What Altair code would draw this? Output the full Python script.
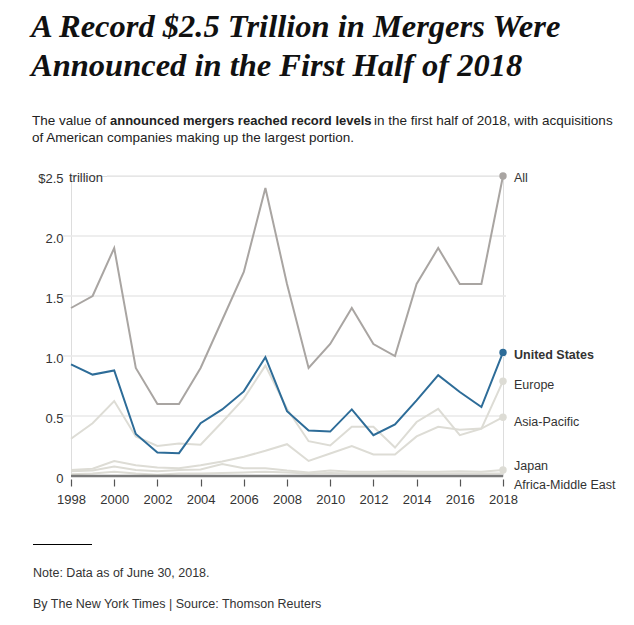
import altair as alt
import pandas as pd

years = list(range(1998, 2019))
all_vals = [1.40, 1.50, 1.90, 0.90, 0.60, 0.60, 0.90, 1.30, 1.70, 2.40, 1.60,
            0.90, 1.10, 1.40, 1.10, 1.00, 1.60, 1.90, 1.60, 1.60, 2.50]
us_vals = [0.93, 0.845, 0.88, 0.35, 0.195, 0.19, 0.44, 0.555, 0.705, 0.99, 0.54,
           0.38, 0.37, 0.555, 0.34, 0.43, 0.63, 0.84, 0.70, 0.575, 1.03]
europe_vals = [0.31, 0.44, 0.625, 0.33, 0.25, 0.27, 0.26, 0.45, 0.645, 0.92, 0.56,
               0.29, 0.255, 0.41, 0.41, 0.237, 0.45, 0.56, 0.34, 0.395, 0.79]
asia_vals = [0.05, 0.06, 0.125, 0.09, 0.07, 0.065, 0.09, 0.12, 0.16, 0.21, 0.265,
             0.125, 0.187, 0.25, 0.18, 0.18, 0.33, 0.41, 0.385, 0.395, 0.49]
japan_vals = [0.04, 0.045, 0.08, 0.05, 0.04, 0.05, 0.055, 0.10, 0.065, 0.065, 0.045,
              0.03, 0.045, 0.035, 0.035, 0.04, 0.035, 0.035, 0.04, 0.035, 0.05]
africa_vals = [0.015, 0.02, 0.035, 0.02, 0.01, 0.02, 0.02, 0.025, 0.03, 0.035, 0.03,
               0.02, 0.025, 0.02, 0.02, 0.02, 0.02, 0.02, 0.02, 0.02, 0.02]

series_names = ["All", "United States", "Europe", "Asia-Pacific", "Japan", "Africa-Middle East"]
series_vals = [all_vals, us_vals, europe_vals, asia_vals, japan_vals, africa_vals]
label_dy = [2, 3, 4, 5, -4, 11]

grid_values = [0.5, 1.0, 1.5, 2.0]
y_ticks = [0, 0.5, 1.0, 1.5, 2.0, 2.5]
x_ticks = list(range(1998, 2019, 2))

rows = []
for name, vals in zip(series_names, series_vals):
    for yr, v in zip(years, vals):
        rows.append({"series": name, "year": yr, "value": v})
df = pd.DataFrame(rows)

W, H = 432, 300
OX, OY = 71, 176  # page position of plot origin

GRAY = "#a9a5a2"
BLUE = "#2d6c98"
LIGHT = "#dddcd5"
SANS = "Liberation Sans"
TEXT = "#333333"

xs = alt.Scale(domain=[1998, 2018], nice=False, zero=False)
ys = alt.Scale(domain=[0, 2.5], nice=False)

Y_AX = alt.Axis(
    values=y_ticks, grid=False, domain=False, ticks=False, labelPadding=8,
    labelExpr="datum.value == 0 ? '0' : (datum.value == 2.5 ? '$2.5' : format(datum.value, '.1f'))",
    labelFont=SANS, labelFontSize=13, labelColor=TEXT, labelOffset=2, title=None)
X_AX = alt.Axis(
    values=x_ticks, format="d", domain=False, grid=False, offset=3, tickSize=7,
    tickColor="#555555", tickWidth=1.2, labelPadding=7, labelFont=SANS, labelFontSize=13,
    labelColor=TEXT, labelOverlap=False, labelFlush=False, title=None)


def X(f="year:Q"):
    return alt.X(f, scale=xs, axis=X_AX)


def Y(f="value:Q"):
    return alt.Y(f, scale=ys, axis=Y_AX)


base = alt.Chart(df)

grid = alt.Chart(pd.DataFrame({"v": grid_values})).mark_rule(color="#e8e8e8", strokeWidth=1.5).encode(
    y=Y("v:Q"), x=alt.value(-8), x2=alt.value(W + 3))
grid_top = alt.Chart(pd.DataFrame({"v": [2.5]})).mark_rule(color="#e8e8e8", strokeWidth=1.5).encode(
    y=Y("v:Q"), x=alt.value(36), x2=alt.value(W + 3))

light_names = ["Africa-Middle East", "Japan", "Asia-Pacific", "Europe"]
light_lines = base.transform_filter(
    alt.FieldOneOfPredicate(field="series", oneOf=light_names)
).mark_line(color=LIGHT, strokeWidth=2).encode(x=X(), y=Y(), detail="series:N")

baseline = alt.Chart(pd.DataFrame({"v": [0]})).mark_rule(color="#7a7a7a", strokeWidth=2.5).encode(
    y=Y("v:Q"), x=alt.value(0), x2=alt.value(W))

all_line = base.transform_filter(alt.datum.series == "All").mark_line(color=GRAY, strokeWidth=2).encode(
    x=X(), y=Y())
us_line = base.transform_filter(alt.datum.series == "United States").mark_line(color=BLUE, strokeWidth=2).encode(
    x=X(), y=Y())

last = df[df.year == 2018]
dots_light = alt.Chart(last[last.series.isin(["Europe", "Asia-Pacific", "Japan"])]).mark_circle(
    size=55, opacity=1, color=LIGHT).encode(x=X(), y=Y())
dot_all = alt.Chart(last[last.series == "All"]).mark_circle(size=55, opacity=1, color=GRAY).encode(
    x=X(), y=Y())
dot_us = alt.Chart(last[last.series == "United States"]).mark_circle(size=55, opacity=1, color=BLUE).encode(
    x=X(), y=Y())

labels = []
for name, dy in zip(series_names, label_dy):
    labels.append(alt.Chart(last[last.series == name]).mark_text(
        align="left", baseline="middle", dx=11, dy=dy, font=SANS, fontSize=12.5,
        fontWeight="bold" if name == "United States" else "normal", color=TEXT).encode(
        x=X(), y=Y(), text="series:N"))

one = pd.DataFrame({"a": [0]})


def txt(s, px, py, size, font=SANS, weight="normal", style="normal", color=TEXT, align="left"):
    return alt.Chart(one).mark_text(text=s, align=align, baseline="alphabetic", font=font, fontSize=size,
                                    fontWeight=weight, fontStyle=style, color=color).encode(
        x=alt.value(px - OX), y=alt.value(py - OY))


TFONT = "Liberation Serif"
texts = [
    txt("A Record $2.5 Trillion in Mergers Were", 31, 37, 32.5, font=TFONT, weight="bold", style="italic", color="#111111"),
    txt("Announced in the First Half of 2018", 31, 76, 32.5, font=TFONT, weight="bold", style="italic", color="#111111"),
    txt("The value of", 32, 125, 13.5, color="#222222"),
    txt("announced mergers reached record levels", 110, 125, 13, weight="bold", color="#222222"),
    txt("in the first half of 2018, with acquisitions", 374, 125, 13.5, color="#222222"),
    txt("of American companies making up the largest portion.", 32, 142, 13.5, color="#222222"),
    txt("trillion", 69, 182, 13),
    txt("Note: Data as of June 30, 2018.", 33, 577, 12.5),
    txt("By The New York Times | Source: Thomson Reuters", 33, 608, 12.5),
]
footer_rule = alt.Chart(one).mark_rule(color="#000000", strokeWidth=1).encode(
    x=alt.value(33 - OX), x2=alt.value(92 - OX), y=alt.value(544.5 - OY))

chart = alt.layer(
    grid, grid_top, light_lines, baseline, all_line, us_line,
    dots_light, dot_all, dot_us, *labels, *texts, footer_rule
).properties(
    width=W, height=H,
    autosize=alt.AutoSizeParams(type="none"),
    padding={"left": OX - 8, "top": OY - 8, "right": 634 - 16 - (OX - 8) - W - 1, "bottom": 609 - (OY - 8) - H - 1},
).configure_view(stroke=None).configure(background="white")

chart.save("out.html", embed_options={"renderer": "svg", "actions": False})
